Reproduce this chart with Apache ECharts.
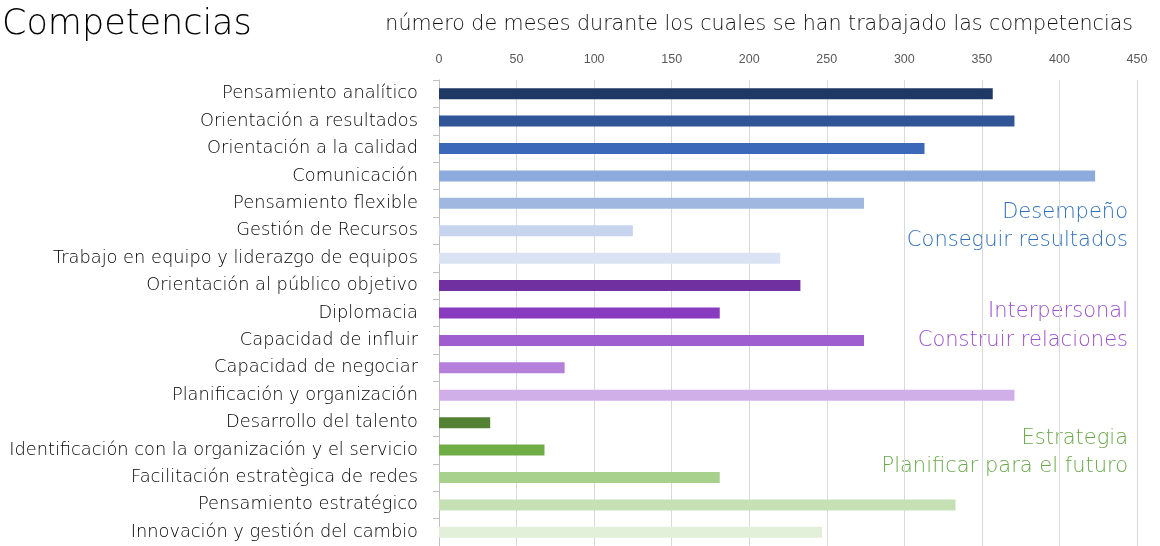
<!DOCTYPE html>
<html>
<head>
<meta charset="utf-8">
<script src="https://cdn.jsdelivr.net/npm/echarts@6/dist/echarts.min.js"></script>
<style>
html,body{margin:0;padding:0;background:#fff;}
#chart{width:1160px;height:546px;}
</style>
</head>
<body>
<div id="chart"></div>
<script>
const categories = [
  "Pensamiento analítico",
  "Orientación a resultados",
  "Orientación a la calidad",
  "Comunicación",
  "Pensamiento flexible",
  "Gestión de Recursos",
  "Trabajo en equipo y liderazgo de equipos",
  "Orientación al público objetivo",
  "Diplomacia",
  "Capacidad de influir",
  "Capacidad de negociar",
  "Planificación y organización",
  "Desarrollo del talento",
  "Identificación con la organización y el servicio",
  "Facilitación estratègica de redes",
  "Pensamiento estratégico",
  "Innovación y gestión del cambio"
];
const months = [357, 371, 313, 423, 274, 125, 220, 233, 181, 274, 81, 371, 33, 68, 181, 333, 247];
const barColors = [
  "#203864", "#2f5597", "#3b68b8", "#8ea9db", "#a0b8e0", "#c6d5ed", "#dae3f3",
  "#7030a0", "#893bc0", "#9e5ecf", "#b480dc", "#d0aee8",
  "#548235", "#70ad47", "#a9d18e", "#c5e0b4", "#e2efd9"
];
const xTicks = [0, 50, 100, 150, 200, 250, 300, 350, 400, 450];
const titleText = "Competencias";
const subtitleText = "número de meses durante los cuales se han trabajado las competencias";
const groupLabels = [
  ["Desempeño", "Conseguir resultados"],
  ["Interpersonal", "Construir relaciones"],
  ["Estrategia", "Planificar para el futuro"]
];
const groupColors = ["#2f6fb8", "#9a4fcc", "#6aa84a"];

const FONT = "'DejaVu Sans'";
const chart = echarts.init(document.getElementById('chart'));

const groupGraphics = [];
const groupY = [[214, 242], [313, 342], [440, 468]];
groupLabels.forEach((g, i) => {
  g.forEach((t, j) => {
    groupGraphics.push({
      type: 'text',
      right: 32,
      top: groupY[i][j] - 12,
      style: { text: t, fill: groupColors[i], font: '200 21px ' + FONT, textAlign: 'right' }
    });
  });
});

chart.setOption({
  animation: false,
  backgroundColor: '#fff',
  title: [
    { text: titleText, left: -3, top: 2, textStyle: { fontFamily: FONT, fontWeight: 200, fontSize: 35, color: '#000' } },
    { text: subtitleText, right: 22, top: 9, textStyle: { fontFamily: FONT, fontWeight: 200, fontSize: 20.6, color: '#111' } }
  ],
  grid: { left: 439, top: 80, width: 698, height: 468.5, containLabel: false },
  xAxis: {
    type: 'value',
    position: 'top',
    min: 0, max: 450, interval: 50,
    axisLine: { show: false },
    axisTick: { show: false },
    axisLabel: { color: '#595959', fontFamily: "'Liberation Sans'", fontSize: 12.5, margin: 14,
      formatter: v => xTicks.indexOf(v) >= 0 ? String(v) : '' },
    splitLine: { show: true, lineStyle: { color: '#d9d9d9', width: 1 } }
  },
  yAxis: {
    type: 'category',
    inverse: true,
    data: categories,
    axisLine: { show: true, lineStyle: { color: '#bfbfbf' } },
    axisTick: { show: true, length: 6, lineStyle: { color: '#bfbfbf' } },
    axisLabel: { color: '#000', fontFamily: FONT, fontWeight: 200, fontSize: 17.8, margin: 21 }
  },
  series: [{
    type: 'bar',
    barWidth: 11,
    data: months.map((v, i) => ({ value: v, itemStyle: { color: barColors[i] } }))
  }],
  graphic: groupGraphics
});
</script>
</body>
</html>
